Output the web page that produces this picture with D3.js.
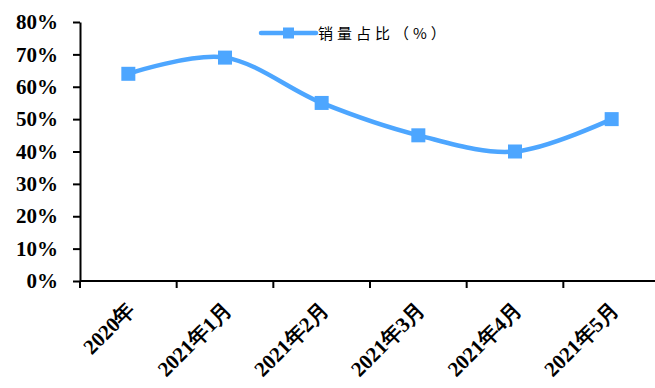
<!DOCTYPE html>
<html>
<head>
<meta charset="utf-8">
<script src="https://cdn.jsdelivr.net/npm/d3@7"></script>
<style>
  body { margin: 0; background: #fff; }
  svg { display: block; }
  .lab { font-family: 'Liberation Serif', 'Times New Roman', Tinos, 'DejaVu Serif', serif; font-weight: bold; font-size: 21px; }
</style>
</head>
<body>
<div id="chart"></div>
<script>
const categories = ['2020年', '2021年1月', '2021年2月', '2021年3月', '2021年4月', '2021年5月']
const shareValues = [0.64, 0.69, 0.55, 0.45, 0.40, 0.50]
const yTicks = [0, 0.1, 0.2, 0.3, 0.4, 0.5, 0.6, 0.7, 0.8]
const seriesName = '销量占比（%）'

const lineColor = '#4da6ff'
const width = 655, height = 388

const svg = d3.select('#chart')
  .append('svg')
  .attr('width', width)
  .attr('height', height)

const x = d3.scaleBand()
  .domain(categories)
  .range([80, 660])

const y = d3.scaleLinear()
  .domain([0, 0.8])
  .range([281, 22])

// y axis
const yAxis = svg.append('g')
  .attr('transform', 'translate(80,0)')
  .call(d3.axisLeft(y).tickValues(yTicks).tickFormat(d3.format('.0%')).tickSize(7).tickPadding(15).tickSizeOuter(0))
yAxis.attr('font-family', null).attr('font-size', null)
yAxis.select('.domain').attr('stroke', '#000').attr('stroke-width', 2)
yAxis.selectAll('.tick line').attr('stroke', '#000').attr('stroke-width', 2)
yAxis.selectAll('text')
  .attr('class', 'lab')
  .attr('fill', '#000')

// x axis, ticks between categories
const xAxisG = svg.append('g')
  .attr('transform', 'translate(0,' + y(0) + ')')
xAxisG.append('line')
  .attr('x1', x.range()[0]).attr('x2', x.range()[1])
  .attr('stroke', '#000').attr('stroke-width', 2)
xAxisG.selectAll('.tk')
  .data(categories)
  .enter()
  .append('line')
  .attr('class', 'tk')
  .attr('x1', d => x(d)).attr('x2', d => x(d))
  .attr('y1', 0).attr('y2', 7)
  .attr('stroke', '#000').attr('stroke-width', 2)
xAxisG.selectAll('text')
  .data(categories)
  .enter()
  .append('text')
  .attr('class', 'lab')
  .attr('text-anchor', 'end')
  .attr('transform', d => 'translate(' + (x(d) + x.bandwidth() / 2 + 8) + ',30) rotate(-45)')
  .attr('fill', '#000')
  .text(d => d)

// line
const pts = categories.map((c, i) => [x(c) + x.bandwidth() / 2, y(shareValues[i])])
const line = d3.line().curve(d3.curveCardinal.tension(0))

svg.append('path')
  .attr('d', line(pts))
  .attr('fill', 'none')
  .attr('stroke', lineColor)
  .attr('stroke-width', 4.5)

svg.selectAll('.marker')
  .data(pts)
  .enter()
  .append('rect')
  .attr('class', 'marker')
  .attr('x', d => d[0] - 7)
  .attr('y', d => d[1] - 7)
  .attr('width', 14)
  .attr('height', 14)
  .attr('fill', lineColor)

// legend
const legend = svg.append('g').attr('transform', 'translate(261,33)')
legend.append('line')
  .attr('x1', 0).attr('x2', 55)
  .attr('stroke', lineColor).attr('stroke-width', 4.5)
  .attr('stroke-linecap', 'round')
legend.append('rect')
  .attr('x', 22).attr('y', -5.5)
  .attr('width', 11).attr('height', 11)
  .attr('fill', lineColor)
legend.append('text')
  .attr('x', 57)
  .attr('y', 5.5)
  .attr('fill', '#000')
  .style('font-family', '"Noto Sans CJK SC", sans-serif')
  .style('font-size', '15px')
  .style('letter-spacing', '4px')
  .text(seriesName)
</script>
</body>
</html>
